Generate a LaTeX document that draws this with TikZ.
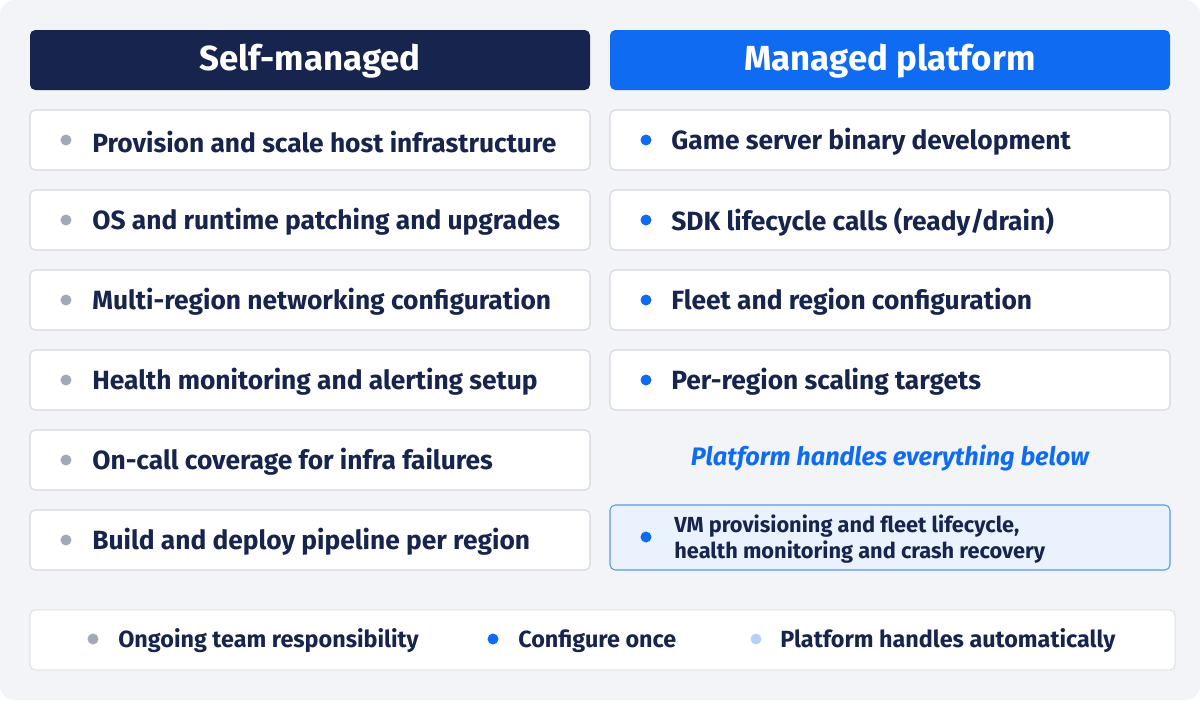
\documentclass[tikz,border=0pt]{standalone}
\usepackage{fontspec}
\setmainfont{Fira Sans}
\usetikzlibrary{positioning}
\definecolor{bgc}{HTML}{F3F4F7}
\definecolor{navy}{HTML}{16244E}
\definecolor{brand}{HTML}{0F6CF2}
\definecolor{rowline}{HTML}{D3D6DD}
\definecolor{dotgray}{HTML}{A2A8B8}
\definecolor{lightfill}{HTML}{EAF2FE}
\definecolor{lightdot}{HTML}{B3D1FA}
\tikzset{
  rowbox/.style={draw=rowline, fill=white, rounded corners=3pt, line width=0.6pt},
  rowtext/.style={anchor=west, inner sep=0pt, text=navy, font=\bfseries\fontsize{15}{18}\selectfont},
  legtext/.style={rowtext, font=\bfseries\fontsize{13.3}{16}\selectfont},
  headtext/.style={text=white, font=\bfseries\fontsize{19.8}{23}\selectfont},
  dotg/.style={circle, fill=dotgray, inner sep=0pt, minimum size=0.22cm},
  dotb/.style={dotg, fill=brand},
}
\begin{document}
\begin{tikzpicture}[x=0.02cm, y=-0.02cm]
  \useasboundingbox (0,0) rectangle (1200,700);
  \fill[bgc, rounded corners=8pt] (0,0) rectangle (1200,700);
  % headers
  \fill[navy, rounded corners=3pt] (30,30) rectangle (590,90);
  \fill[brand, rounded corners=3pt] (610,30) rectangle (1170,90);
  \node[headtext] (selfhead) at (310,61) {Self-managed};
  \node[headtext] (mgdhead) at (890,61) {Managed platform};
  % left rows
  \foreach \y/\t [count=\i] in {
      110/{Provision and scale host infrastructure},
      190/{OS and runtime patching and upgrades},
      270/{Multi-region networking configuration},
      350/{Health monitoring and alerting setup},
      430/{On-call coverage for infra failures},
      510/{Build and deploy pipeline per region}} {
    \draw[rowbox] (30,\y) rectangle (590,\y+60);
    \node[dotg] (ldot\i) at (66,\y+30) {};
    \node[rowtext] (ltext\i) at (92,\y+32) {\t};
  }
  % right rows
  \foreach \y/\t [count=\i] in {
      110/{Game server binary development},
      190/{SDK lifecycle calls (ready/drain)},
      270/{Fleet and region configuration},
      350/{Per-region scaling targets}} {
    \draw[rowbox] (610,\y) rectangle (1170,\y+60);
    \node[dotb] (rdot\i) at (646,\y+30) {};
    \node[rowtext] (rtext\i) at (671,\y+32) {\t};
  }
  \node[text=brand, font=\bfseries\itshape\fontsize{14.4}{17}\selectfont] (handles) at (890,458) {Platform handles everything below};
  \draw[draw=brand!70, fill=lightfill, rounded corners=3pt, line width=0.6pt] (610,505) rectangle (1170,570);
  \node[dotb] (rdot5) at (646,537) {};
  \node[rowtext, font=\bfseries\fontsize{12.4}{15}\selectfont, align=left] (rtext5) at (674,539)
    {VM provisioning and fleet lifecycle,\\health monitoring and crash recovery};
  % legend
  \draw[draw=rowline, fill=white, rounded corners=3pt] (30,610) rectangle (1175,670);
  \node[dotg] (lg1) at (93,639) {};
  \node[legtext] (lt1) at (118,641) {Ongoing team responsibility};
  \node[dotb] (lg2) at (493,639) {};
  \node[legtext] (lt2) at (518,641) {Configure once};
  \node[dotg, fill=lightdot] (lg3) at (756,639) {};
  \node[legtext] (lt3) at (780,641) {Platform handles automatically};
\end{tikzpicture}
\end{document}
